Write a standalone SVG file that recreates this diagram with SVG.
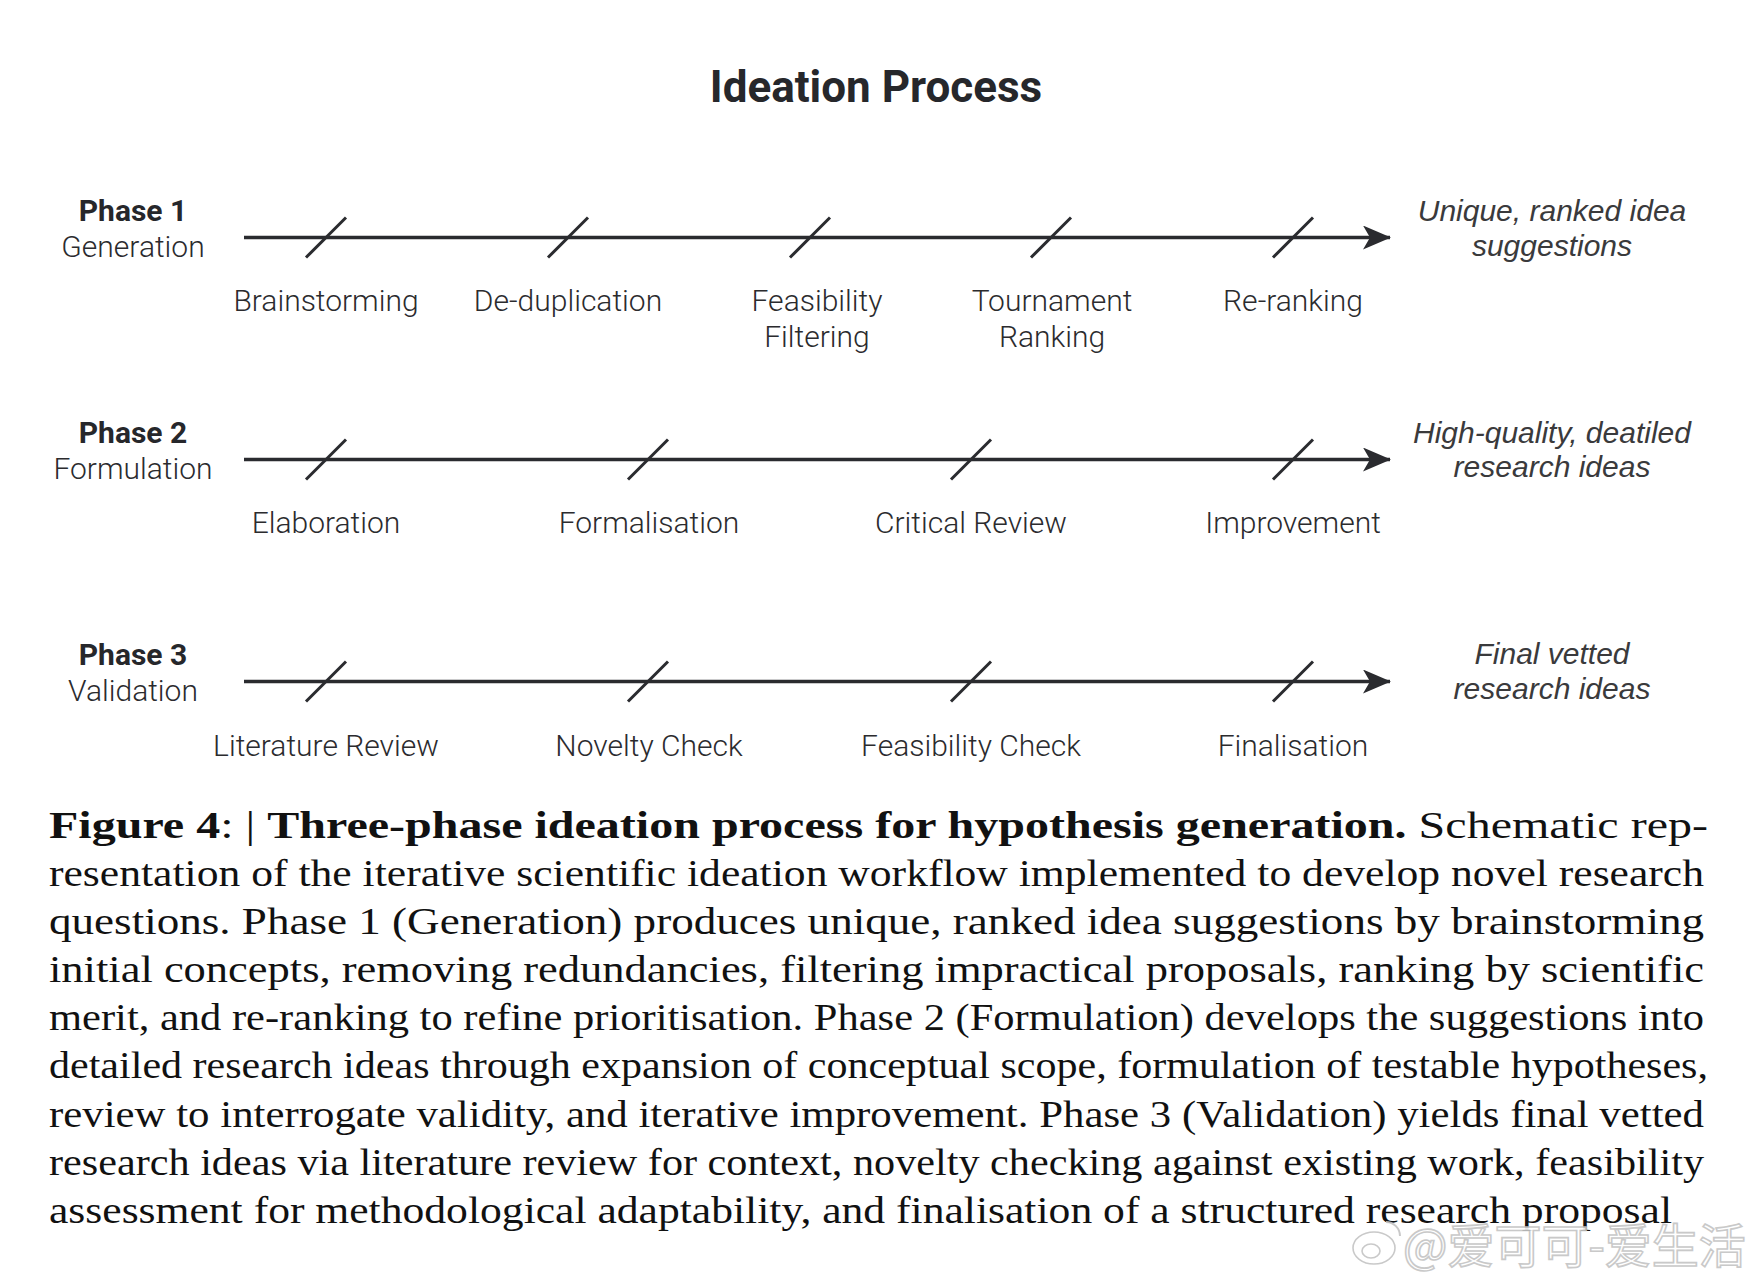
<svg xmlns="http://www.w3.org/2000/svg" width="1760" height="1284" viewBox="0 0 1760 1284">
<defs>
<style>
.title{font-family:Roboto,"Liberation Sans",sans-serif;font-weight:700;font-size:44px;fill:#26272b;text-anchor:middle}
.ph{font-family:Roboto,"Liberation Sans",sans-serif;font-weight:700;font-size:30px;fill:#26272b;text-anchor:middle}
.sub{font-family:Roboto,"Liberation Sans",sans-serif;font-weight:300;font-size:30px;fill:#2b2b2e;text-anchor:middle}
.out{font-family:"Liberation Sans",Arial,sans-serif;font-style:italic;font-size:30px;fill:#3a3a3c;text-anchor:middle}
.axis{stroke:#2a2b2f;stroke-width:3.5;fill:none}
.tick{stroke:#2a2b2f;stroke-width:3;fill:none}
.cap{font-family:"Liberation Serif","Times New Roman",serif;font-size:38px;fill:#111}
.b{font-weight:700}
.wm{font-family:"Noto Sans CJK SC",sans-serif;font-size:47px;fill:#fff;stroke:#c4c4c4;stroke-width:1.6}
</style>
<marker id="arr" viewBox="0 0 28 24" refX="27" refY="12" markerWidth="28" markerHeight="24" markerUnits="userSpaceOnUse" orient="auto">
<path d="M0,0 L28,12 L0,24 L7,12 Z" fill="#2a2b2f"/>
</marker>
</defs>
<rect width="1760" height="1284" fill="#fff"/>
<text class="title" x="876" y="102">Ideation Process</text>

<g id="phase1-label">
<text class="ph" x="133" y="221">Phase 1</text>
<text class="sub" x="133" y="257">Generation</text>
</g>
<g id="phase2-label">
<text class="ph" x="133" y="443">Phase 2</text>
<text class="sub" x="133" y="479">Formulation</text>
</g>
<g id="phase3-label">
<text class="ph" x="133" y="665">Phase 3</text>
<text class="sub" x="133" y="701">Validation</text>
</g>

<g id="connectors">
<line class="axis" x1="244" y1="237.5" x2="1390" y2="237.5" marker-end="url(#arr)"/>
<line class="axis" x1="244" y1="459.5" x2="1390" y2="459.5" marker-end="url(#arr)"/>
<line class="axis" x1="244" y1="681.5" x2="1390" y2="681.5" marker-end="url(#arr)"/>
</g>

<g id="phase1-steps">
<g id="brainstorming"><line class="tick" x1="306" y1="257.5" x2="346" y2="217.5"/><text class="sub" x="326" y="311">Brainstorming</text></g>
<g id="deduplication"><line class="tick" x1="548" y1="257.5" x2="588" y2="217.5"/><text class="sub" x="568" y="311">De-duplication</text></g>
<g id="feasibility-filtering"><line class="tick" x1="790" y1="257.5" x2="830" y2="217.5"/><text class="sub" x="817" y="311">Feasibility</text><text class="sub" x="817" y="347">Filtering</text></g>
<g id="tournament-ranking"><line class="tick" x1="1031" y1="257.5" x2="1071" y2="217.5"/><text class="sub" x="1052" y="311">Tournament</text><text class="sub" x="1052" y="347">Ranking</text></g>
<g id="reranking"><line class="tick" x1="1273" y1="257.5" x2="1313" y2="217.5"/><text class="sub" x="1293" y="311">Re-ranking</text></g>
</g>

<g id="phase2-steps">
<g id="elaboration"><line class="tick" x1="306" y1="479.5" x2="346" y2="439.5"/><text class="sub" x="326" y="533">Elaboration</text></g>
<g id="formalisation"><line class="tick" x1="628" y1="479.5" x2="668" y2="439.5"/><text class="sub" x="649" y="533">Formalisation</text></g>
<g id="critical-review"><line class="tick" x1="951" y1="479.5" x2="991" y2="439.5"/><text class="sub" x="971" y="533">Critical Review</text></g>
<g id="improvement"><line class="tick" x1="1273" y1="479.5" x2="1313" y2="439.5"/><text class="sub" x="1293" y="533">Improvement</text></g>
</g>

<g id="phase3-steps">
<g id="literature-review"><line class="tick" x1="306" y1="701.5" x2="346" y2="661.5"/><text class="sub" x="326" y="756">Literature Review</text></g>
<g id="novelty-check"><line class="tick" x1="628" y1="701.5" x2="668" y2="661.5"/><text class="sub" x="649" y="756">Novelty Check</text></g>
<g id="feasibility-check"><line class="tick" x1="951" y1="701.5" x2="991" y2="661.5"/><text class="sub" x="971" y="756">Feasibility Check</text></g>
<g id="finalisation"><line class="tick" x1="1273" y1="701.5" x2="1313" y2="661.5"/><text class="sub" x="1293" y="756">Finalisation</text></g>
</g>

<g id="outcome1"><text class="out" x="1552" y="221">Unique, ranked idea</text><text class="out" x="1552" y="256">suggestions</text></g>
<g id="outcome2"><text class="out" x="1552" y="443">High-quality, deatiled</text><text class="out" x="1552" y="477">research ideas</text></g>
<g id="outcome3"><text class="out" x="1552" y="664">Final vetted</text><text class="out" x="1552" y="699">research ideas</text></g>

<g id="caption">
<text class="cap" x="49" y="838" textLength="1659" lengthAdjust="spacingAndGlyphs"><tspan class="b">Figure 4</tspan>: | <tspan class="b">Three-phase ideation process for hypothesis generation.</tspan> Schematic rep-</text>
<text class="cap" x="49" y="886" textLength="1655" lengthAdjust="spacingAndGlyphs">resentation of the iterative scientific ideation workflow implemented to develop novel research</text>
<text class="cap" x="49" y="934" textLength="1655" lengthAdjust="spacingAndGlyphs">questions. Phase 1 (Generation) produces unique, ranked idea suggestions by brainstorming</text>
<text class="cap" x="49" y="982" textLength="1655" lengthAdjust="spacingAndGlyphs">initial concepts, removing redundancies, filtering impractical proposals, ranking by scientific</text>
<text class="cap" x="49" y="1030" textLength="1655" lengthAdjust="spacingAndGlyphs">merit, and re-ranking to refine prioritisation. Phase 2 (Formulation) develops the suggestions into</text>
<text class="cap" x="49" y="1078" textLength="1659" lengthAdjust="spacingAndGlyphs">detailed research ideas through expansion of conceptual scope, formulation of testable hypotheses,</text>
<text class="cap" x="49" y="1127" textLength="1655" lengthAdjust="spacingAndGlyphs">review to interrogate validity, and iterative improvement. Phase 3 (Validation) yields final vetted</text>
<text class="cap" x="49" y="1175" textLength="1655" lengthAdjust="spacingAndGlyphs">research ideas via literature review for context, novelty checking against existing work, feasibility</text>
<text class="cap" x="49" y="1223" textLength="1623" lengthAdjust="spacingAndGlyphs">assessment for methodological adaptability, and finalisation of a structured research proposal</text>
</g>

<g id="watermark" opacity="0.9">
<ellipse cx="1374" cy="1248" rx="21" ry="16" fill="#fff" stroke="#c4c4c4" stroke-width="1.6"/>
<ellipse cx="1371" cy="1251" rx="9" ry="7" fill="none" stroke="#c4c4c4" stroke-width="1.6"/>
<path d="M1386,1222 a14,14 0 0 1 14,14" fill="none" stroke="#c4c4c4" stroke-width="2"/>
<text class="wm" x="1403" y="1263">@爱可可-爱生活</text>
</g>
</svg>
